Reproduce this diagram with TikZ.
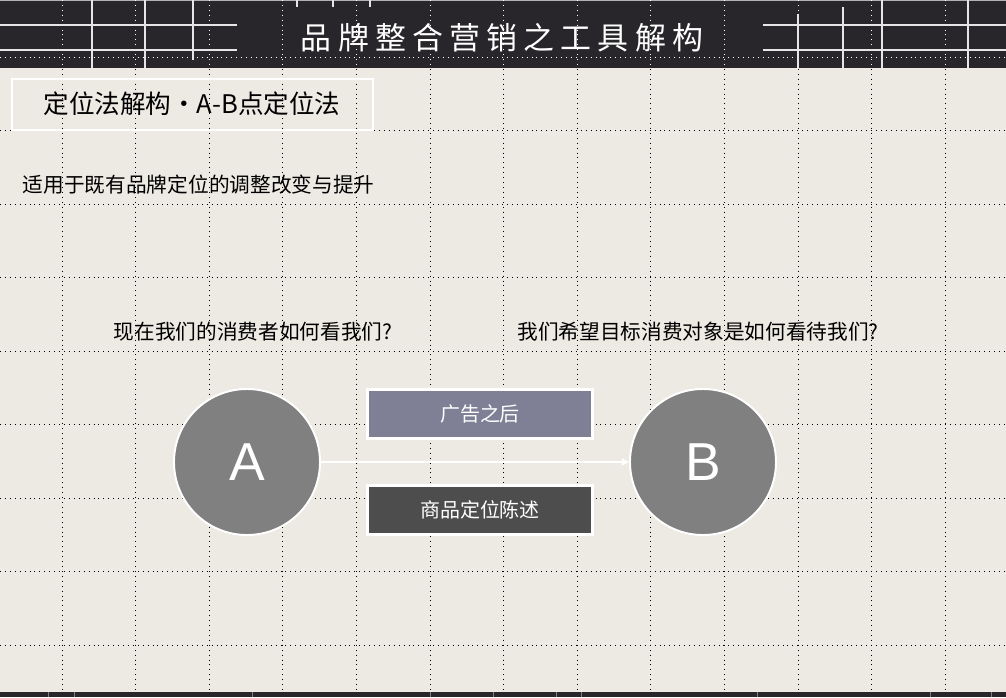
\documentclass[tikz,border=0pt]{standalone}
\usepackage{fontspec}
\usepackage{tikz}
\usetikzlibrary{arrows.meta,positioning}
\setmainfont{Liberation Sans}
\newfontfamily\cjk{Noto Sans CJK SC}
\newfontfamily\cjktitle[LetterSpace=20]{Noto Sans CJK SC}
\definecolor{paper}{HTML}{EDE9E3}
\definecolor{band}{HTML}{28262A}
\definecolor{dotgray}{HTML}{808080}
\definecolor{adbox}{HTML}{7F7F96}
\definecolor{posbox}{HTML}{4D4D4D}
\tikzset{
  gridline/.style={line width=0.6pt,dash pattern=on 0.6pt off 2.9pt},
  deco/.style={white!80!gray,line width=1.8pt},
  point/.style={circle,fill=dotgray,draw=white,line width=1.4pt,minimum size=3.65cm,
    text=white,font=\fontsize{38}{40}\selectfont},
  stepbox/.style={draw=white,line width=2.1pt,minimum width=5.62cm,minimum height=1.22cm,
    text=white,font=\cjk\fontsize{14.2}{17}\selectfont},
  plain/.style={font=\cjk\fontsize{14.7}{17}\selectfont,text=black}
}
\begin{document}
\begin{tikzpicture}[x=0.025cm,y=-0.025cm]
      \useasboundingbox (0,0) rectangle (1006,697);
      \fill[paper] (0,0) rectangle (1006,697);
      % dotted grid
      \foreach \gx in {0,...,12}
        \draw[gridline] ({62+73.6*\gx},0) -- ({62+73.6*\gx},692);
      \foreach \gy in {0,...,8}
        \draw[gridline] (0,{57+73.5*\gy}) -- (1006,{57+73.5*\gy});
      % header band
      \fill[band] (0,0) rectangle (1006,68);
      \draw[gray!60,line width=1pt] (0,0.5) -- (1006,0.5);
      \scope
      \clip (0,0) rectangle (1006,68);
      \foreach \gx in {0,...,12}
        \draw[gridline,white] ({62+73.6*\gx},0) -- ({62+73.6*\gx},68);
      \draw[gridline,white] (0,57) -- (1006,57);
      \endscope
      \draw[deco] (0,25) -- (237,25) (0,50) -- (237,50)
        (92,0) -- (92,68) (145,0) -- (145,68) (193,0) -- (193,60)
        (297,0) -- (297,7) (333,0) -- (333,7) (370,0) -- (370,7);
      \draw[deco] (763,25) -- (1006,25) (763,50) -- (1006,50)
        (798,14) -- (798,68) (843,7) -- (843,68) (882,0) -- (882,68) (968,0) -- (968,68);
      \node[text=white,font=\cjktitle\fontsize{22}{26}\selectfont] (title) at (502,38) {品牌整合营销之工具解构};
      % bottom band
      \fill[band] (0,692) rectangle (1006,697);
      \foreach \bx in {48,74,252,430,493,556,581,757,930,991}
        \draw[gray,line width=0.7pt] (\bx,692) -- (\bx,697);

      \draw[white,line width=2.1pt] (12,79) rectangle (373,130);
      \node[plain,font=\cjk\fontsize{18.2}{20}\selectfont] (method) at (192,104) {定位法解构·A-B点定位法};
      \node[plain,anchor=west] (usage) at (18,185) {适用于既有品牌定位的调整改变与提升};
      \node[plain] (nowq) at (253,332) {现在我们的消费者如何看我们?};
      \node[plain] (hopeq) at (698,332) {我们希望目标消费对象是如何看待我们?};

      \node[point] (A) at (247,462) {A};
      \node[point] (B) at (703,462) {B};
      \draw[white,line width=1.4pt,-{Triangle[length=5pt,width=5pt]}] (A) -- (B);
      \node[stepbox,fill=adbox] (after) at (480,414) {广告之后};
      \node[stepbox,fill=posbox] (state) at (480,510) {商品定位陈述};
    \end{tikzpicture}
\end{document}
